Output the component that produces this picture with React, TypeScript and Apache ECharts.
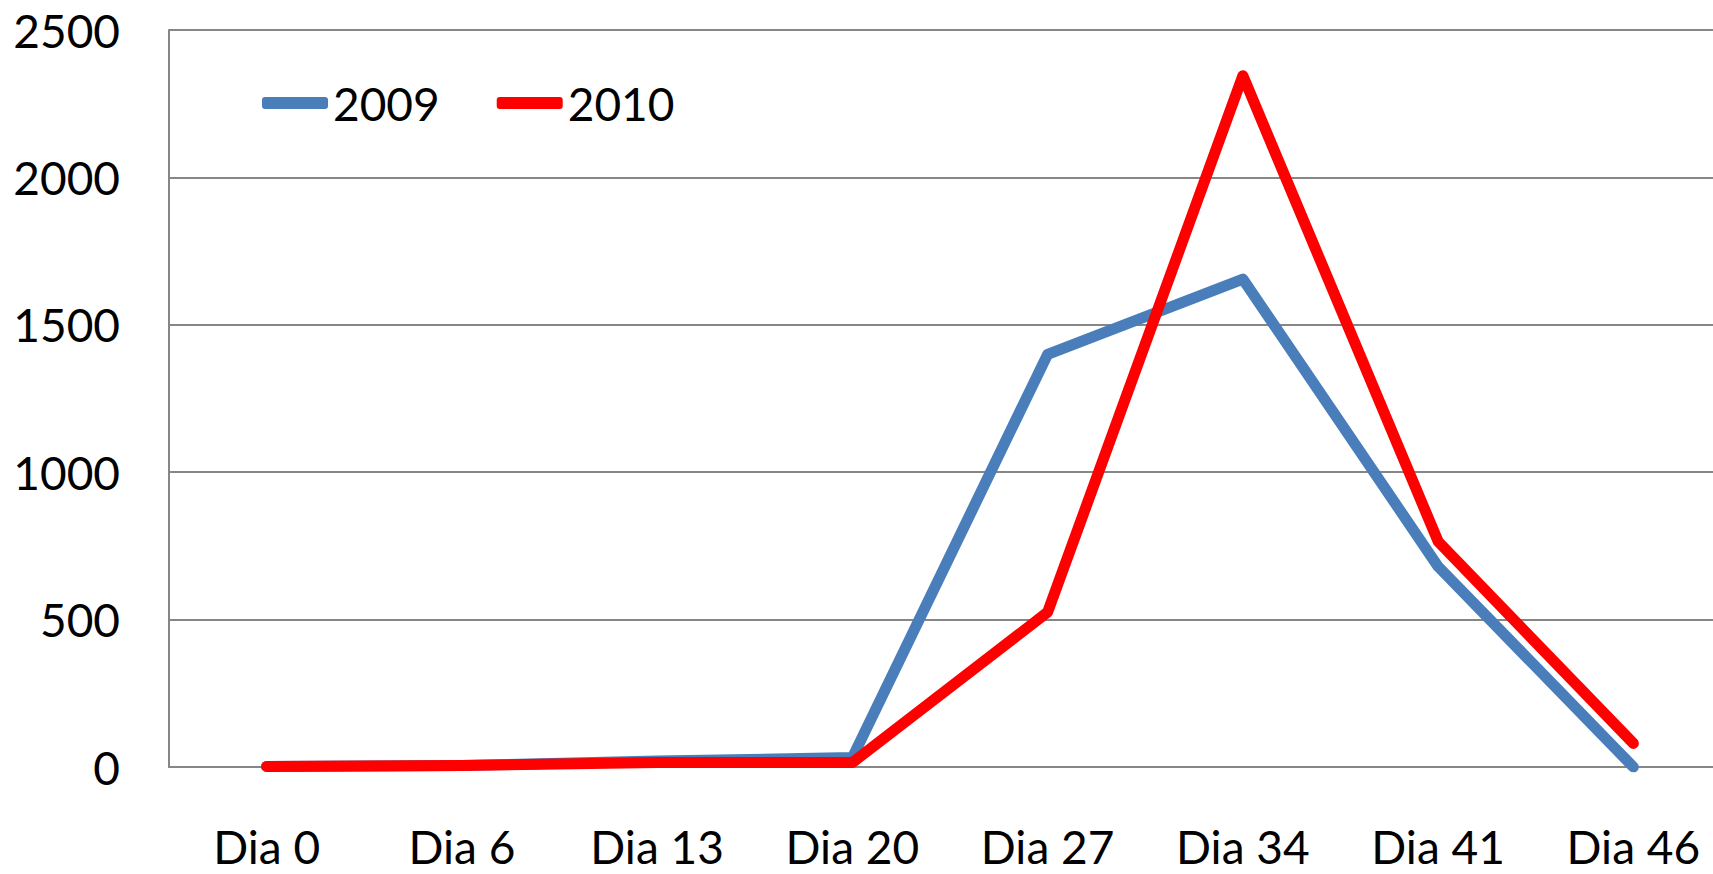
import React, { useEffect, useRef } from "react";
import * as echarts from "echarts";

const categories = ["Dia 0", "Dia 6", "Dia 13", "Dia 20", "Dia 27", "Dia 34", "Dia 41", "Dia 46"];
const values2009 = [2, 5, 20, 32, 1400, 1655, 680, 0];
const values2010 = [2, 5, 15, 15, 525, 2345, 765, 80];
const yTicks = { min: 0, max: 2500, interval: 500 };

const FONT = "Lato";

export default function App() {
  const ref = useRef<HTMLDivElement>(null);
  useEffect(() => {
    if (!ref.current) return;
    const chart = echarts.init(ref.current, null, { renderer: "svg" });
    chart.setOption({
      animation: false,
      backgroundColor: "#ffffff",
      grid: { left: 169, right: 0, top: 30, bottom: 107, containLabel: false },
      legend: {
        left: 257,
        top: 75,
        itemWidth: 66,
        itemHeight: 12,
        itemGap: 57,
        icon: "roundRect",
        textStyle: { fontFamily: FONT, fontSize: 46, color: "#000", lineHeight: 46 },
        data: ["2009", "2010"],
      },
      xAxis: {
        type: "category",
        data: categories,
        boundaryGap: true,
        axisLine: { show: true, lineStyle: { color: "#868686", width: 2 } },
        axisTick: { show: false },
        axisLabel: { fontFamily: FONT, fontSize: 46, lineHeight: 40, color: "#000", margin: 59, interval: 0 },
        splitLine: { show: false },
      },
      yAxis: {
        type: "value",
        min: yTicks.min,
        max: yTicks.max,
        interval: yTicks.interval,
        axisLine: { show: true, lineStyle: { color: "#868686", width: 2 } },
        axisTick: { show: false },
        axisLabel: {
          fontFamily: FONT,
          fontSize: 46,
          color: "#000",
          margin: 49,
          formatter: (v: number) => String(v),
        },
        splitLine: { show: true, lineStyle: { color: "#868686", width: 2 } },
      },
      series: [
        {
          name: "2009",
          type: "line",
          data: values2009,
          showSymbol: false,
          symbol: "none",
          itemStyle: { color: "#4A7EBB" },
          lineStyle: { color: "#4A7EBB", width: 11, cap: "round", join: "round" },
        },
        {
          name: "2010",
          type: "line",
          data: values2010,
          showSymbol: false,
          symbol: "none",
          itemStyle: { color: "#FF0000" },
          lineStyle: { color: "#FF0000", width: 11, cap: "round", join: "round" },
        },
      ],
    });
    return () => chart.dispose();
  }, []);
  return (
    <div style={{ position: "fixed", left: 0, top: 0, width: 1713, height: 874, overflow: "hidden", background: "#fff" }}>
      <div ref={ref} style={{ width: 1731, height: 874 }} />
    </div>
  );
}
